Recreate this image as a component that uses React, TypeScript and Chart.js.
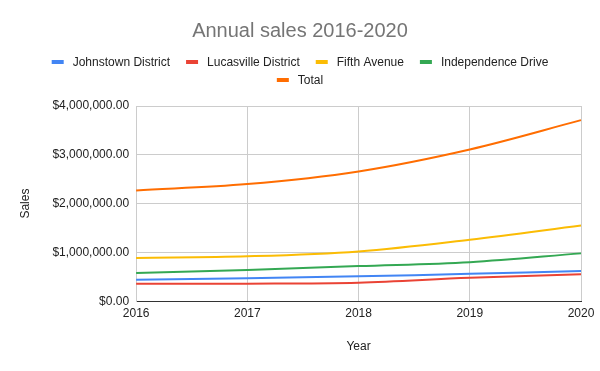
import React, { useEffect, useRef } from "react";
import { Chart, registerables } from "chart.js";

Chart.register(...registerables);

const FONT = "'Liberation Sans', Arial, Helvetica, sans-serif";

const chartTitle = "Annual sales 2016-2020";
const years = ["2016", "2017", "2018", "2019", "2020"];
const johnstown = [440000, 470000, 510000, 560000, 620000];
const lucasville = [360000, 360000, 380000, 480000, 550000];
const fifthAvenue = [887000, 920000, 1020000, 1260000, 1550000];
const independence = [577000, 640000, 720000, 800000, 980000];
const total = [2270000, 2400000, 2660000, 3110000, 3710000];

const seriesNames = ["Johnstown District", "Lucasville District", "Fifth Avenue", "Independence Drive", "Total"];
const seriesColors = ["#4285F4", "#EA4335", "#FBBC04", "#34A853", "#FF6D01"];
const yTickLabels = ["$0.00", "$1,000,000.00", "$2,000,000.00", "$3,000,000.00", "$4,000,000.00"];
const legendRows = [[0, 1, 2, 3], [4]];

const headerPlugin = {
  id: "customHeader",
  afterDraw(chart: any) {
    const ctx = chart.ctx;
    ctx.save();
    // title
    ctx.font = `20px ${FONT}`;
    ctx.fillStyle = "#757575";
    ctx.textAlign = "center";
    ctx.textBaseline = "middle";
    ctx.fillText(chartTitle, chart.width / 2, 31);
    // legend
    ctx.font = `12px ${FONT}`;
    ctx.textAlign = "left";
    const rowY = [62, 80];
    legendRows.forEach((row, r) => {
      const widths = row.map((i) => 12 + 9 + ctx.measureText(chart.data.datasets[i].label).width);
      const tot = widths.reduce((a, b) => a + b, 0) + 16 * (row.length - 1);
      let x = chart.width / 2 - tot / 2;
      row.forEach((i, k) => {
        const ds = chart.data.datasets[i];
        ctx.fillStyle = ds.borderColor;
        ctx.fillRect(x, rowY[r] - 2, 12, 4);
        ctx.fillStyle = "#222222";
        ctx.fillText(ds.label, x + 21, rowY[r] + 0.5);
        x += widths[k] + 16;
      });
    });
    ctx.restore();
  },
};

export default function App() {
  const ref = useRef<HTMLCanvasElement>(null);
  useEffect(() => {
    document.body.style.margin = "0";
    const seriesData = [johnstown, lucasville, fifthAvenue, independence, total];
    const chart = new Chart(ref.current!, {
      type: "line",
      data: {
        labels: years,
        datasets: seriesData.map((d, i) => ({
          label: seriesNames[i],
          data: d,
          borderColor: seriesColors[i],
          backgroundColor: seriesColors[i],
          borderWidth: 2,
          pointRadius: 0,
          tension: 0.35,
          fill: false,
        })),
      },
      options: {
        responsive: false,
        animation: false,
        layout: { padding: { top: 106, left: 0, right: 19, bottom: 0 } },
        plugins: {
          legend: { display: false },
          tooltip: { enabled: false },
          title: { display: false },
        },
        scales: {
          x: {
            type: "category",
            offset: false,
            grid: { color: "#cccccc", drawTicks: false },
            border: { display: true, color: "#333333", width: 1 },
            ticks: {
              color: "#222222",
              font: { family: FONT, size: 12 },
              padding: 5,
              maxRotation: 0,
            },
            title: {
              display: true,
              text: "Year",
              color: "#222222",
              font: { family: FONT, size: 12 },
              padding: { top: 14, bottom: 17 },
            },
          },
          y: {
            min: 0,
            max: 4000000,
            grid: { color: "#cccccc", drawTicks: false },
            border: { display: true, color: "#cccccc" },
            ticks: {
              stepSize: 1000000,
              color: "#222222",
              font: { family: FONT, size: 12 },
              padding: 7,
              callback: (_v: any, i: number) => yTickLabels[i],
            },
            title: {
              display: true,
              text: "Sales",
              color: "#222222",
              font: { family: FONT, size: 12 },
              padding: { top: 18, bottom: 13 },
            },
          },
        },
      },
      plugins: [headerPlugin],
    });
    return () => chart.destroy();
  }, []);
  return (
    <div style={{ position: "absolute", left: 0, top: 0, width: 600, height: 371 }}>
      <canvas ref={ref} width={600} height={371} style={{ display: "block" }} />
    </div>
  );
}
